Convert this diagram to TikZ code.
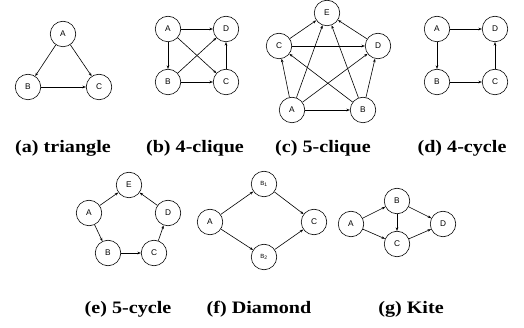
\documentclass[tikz,border=0pt]{standalone}
\usepackage{fontspec}
\newfontfamily\nodefont{Liberation Sans}
\newfontfamily\capfont[FakeStretch=1.15]{Liberation Serif}
\usetikzlibrary{arrows.meta}
\begin{document}
\begin{tikzpicture}[x=1pt,y=-1pt,
  vtx/.style={circle,draw,line width=0.6pt,minimum size=25.5pt,inner sep=0pt,font=\nodefont\fontsize{8.3}{9}\selectfont},
  svtx/.style={vtx,font=\nodefont\fontsize{6}{7}\selectfont},
  edge/.style={line width=0.6pt,-{Stealth[length=3.5pt,width=2.6pt]}},
  captext/.style={font=\capfont\bfseries\fontsize{17.5}{19}\selectfont,inner sep=0pt}]
\useasboundingbox (0,0) rectangle (524,328);
% (a) triangle
\node[vtx] (aA) at (63,34) {A};
\node[vtx] (aB) at (28,87) {B};
\node[vtx] (aC) at (99,87) {C};
\draw[edge] (aA) -- (aB);
\draw[edge] (aA) -- (aC);
\draw[edge] (aB) -- (aC);
\node[captext] (capa) at (63,148) {(a) triangle};
% (b) 4-clique
\node[vtx] (bA) at (168,29) {A};
\node[vtx] (bD) at (226,29) {D};
\node[vtx] (bB) at (168,82) {B};
\node[vtx] (bC) at (226,82) {C};
\draw[edge] (bA) -- (bD);
\draw[edge] (bA) -- (bB);
\draw[edge] (bA) -- (bC);
\draw[edge] (bB) -- (bD);
\draw[edge] (bB) -- (bC);
\draw[edge] (bC) -- (bD);
\node[captext] (capb) at (195,148) {(b) 4-clique};
% (c) 5-clique
\node[vtx] (cE) at (327,13) {E};
\node[vtx] (cC) at (279,46) {C};
\node[vtx] (cD) at (378,46) {D};
\node[vtx] (cA) at (292,110) {A};
\node[vtx] (cB) at (363,110) {B};
\draw[edge] (cA) -- (cB);
\draw[edge] (cA) -- (cC);
\draw[edge] (cA) -- (cE);
\draw[edge] (cA) -- (cD);
\draw[edge] (cB) -- (cC);
\draw[edge] (cB) -- (cE);
\draw[edge] (cB) -- (cD);
\draw[edge] (cC) -- (cD);
\draw[edge] (cC) -- (cE);
\draw[edge] (cD) -- (cE);
\node[captext] (capc) at (323,148) {(c) 5-clique};
% (d) 4-cycle
\node[vtx] (dA) at (437,29) {A};
\node[vtx] (dD) at (495,29) {D};
\node[vtx] (dB) at (437,82) {B};
\node[vtx] (dC) at (495,82) {C};
\draw[edge] (dA) -- (dD);
\draw[edge] (dA) -- (dB);
\draw[edge] (dB) -- (dC);
\draw[edge] (dC) -- (dD);
\node[captext] (capd) at (462,148) {(d) 4-cycle};
% (e) 5-cycle
\node[vtx] (eE) at (129,185) {E};
\node[vtx] (eA) at (89,213) {A};
\node[vtx] (eD) at (168,213) {D};
\node[vtx] (eB) at (108,253) {B};
\node[vtx] (eC) at (154,253) {C};
\draw[edge] (eA) -- (eE);
\draw[edge] (eD) -- (eE);
\draw[edge] (eA) -- (eB);
\draw[edge] (eB) -- (eC);
\draw[edge] (eC) -- (eD);
\node[captext] (cape) at (128,309) {(e) 5-cycle};
% (f) Diamond
\node[vtx] (fA) at (210,222) {A};
\node[svtx] (fB1) at (264,184) {B\textsubscript{1}};
\node[svtx] (fB2) at (264,257) {B\textsubscript{2}};
\node[vtx] (fC) at (314,222) {C};
\draw[edge] (fA) -- (fB1);
\draw[edge] (fA) -- (fB2);
\draw[edge] (fB1) -- (fC);
\draw[edge] (fB2) -- (fC);
\node[captext] (capf) at (259,309) {(f) Diamond};
% (g) Kite
\node[vtx] (gA) at (351,224) {A};
\node[vtx] (gB) at (397,201) {B};
\node[vtx] (gC) at (397,244) {C};
\node[vtx] (gD) at (443,224) {D};
\draw[edge] (gA) -- (gB);
\draw[edge] (gA) -- (gC);
\draw[edge] (gB) -- (gC);
\draw[edge] (gB) -- (gD);
\draw[edge] (gC) -- (gD);
\node[captext] (capg) at (411,309) {(g) Kite};
\end{tikzpicture}
\end{document}
